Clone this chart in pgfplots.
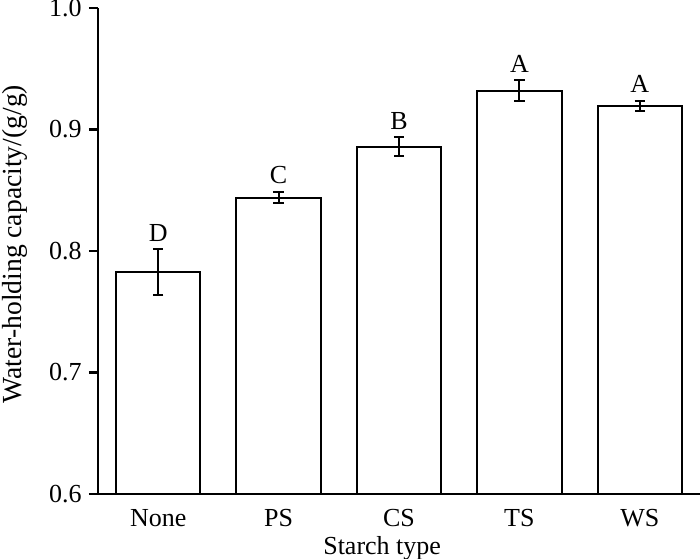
\documentclass[border=0pt]{standalone}
\usepackage{fontspec}
\setmainfont{Liberation Serif}
\usepackage{pgfplots}
\pgfplotsset{compat=1.18}
\usetikzlibrary{calc}
\begin{document}
\fontsize{13pt}{15.6pt}\selectfont
\begin{tikzpicture}
\begin{axis}[
  scale only axis,
  width=301pt, height=243pt,
  xmin=-0.5, xmax=4.5,
  ymin=0.6, ymax=1.0,
  axis x line*=bottom, axis y line*=left,
  axis line style={line width=1.3pt, -},
  xtick={0,1,2,3,4},
  xticklabels={None,PS,CS,TS,WS},
  xtick style={draw=none},
  ytick={0.6,0.7,0.8,0.9,1.0},
  tick align=outside,
  major tick length=4.5pt,
  ytick style={line width=1.3pt, black},
  yticklabel style={/pgf/number format/fixed, /pgf/number format/precision=1, /pgf/number format/fixed zerofill, anchor=east, inner sep=0pt, xshift=-3.5pt},
  /pgf/number format/assume math mode=true,
  xticklabel style={anchor=north, inner sep=0pt, yshift=-3pt},
  xlabel={Starch type},
  ylabel={Water-holding capacity/(g/g)},
  xlabel style={at={(axis description cs:0.472,0)}, anchor=north, inner sep=0pt, yshift=-21pt},
  ylabel style={at={(axis description cs:0,0.514)}, anchor=south, inner sep=0pt, yshift=35pt, font=\fontsize{13.8pt}{16pt}\selectfont},
  clip=true,
]
\addplot[ybar, bar width=0.7, draw=black, fill=white, line width=1pt,
  error bars/.cd, y dir=both, y explicit,
  error bar style={line width=1pt, black},
  error mark options={rotate=90, mark size=2.6pt, line width=1pt, black}]
  coordinates {
  (0,0.783) +- (0,0.019)
  (1,0.844) +- (0,0.0048)
  (2,0.886) +- (0,0.008)
  (3,0.932) +- (0,0.0087)
  (4,0.9195) +- (0,0.0042)
  };
\addplot[draw=none, mark=none, nodes near coords, point meta=explicit symbolic,
  every node near coord/.append style={anchor=south, inner sep=0pt, yshift=3.5pt, black}]
  coordinates {
  (0,0.802) [D]
  (1,0.849) [C]
  (2,0.894) [B]
  (3,0.941) [A]
  (4,0.924) [A]
  };
\coordinate (sw) at (rel axis cs:0,0);
\coordinate (ne) at (rel axis cs:1,1);
\end{axis}
\pgfresetboundingbox
\path ($(sw)+(-49pt,-32pt)$) rectangle ($(ne)+(0,4pt)$);
\end{tikzpicture}
\end{document}
